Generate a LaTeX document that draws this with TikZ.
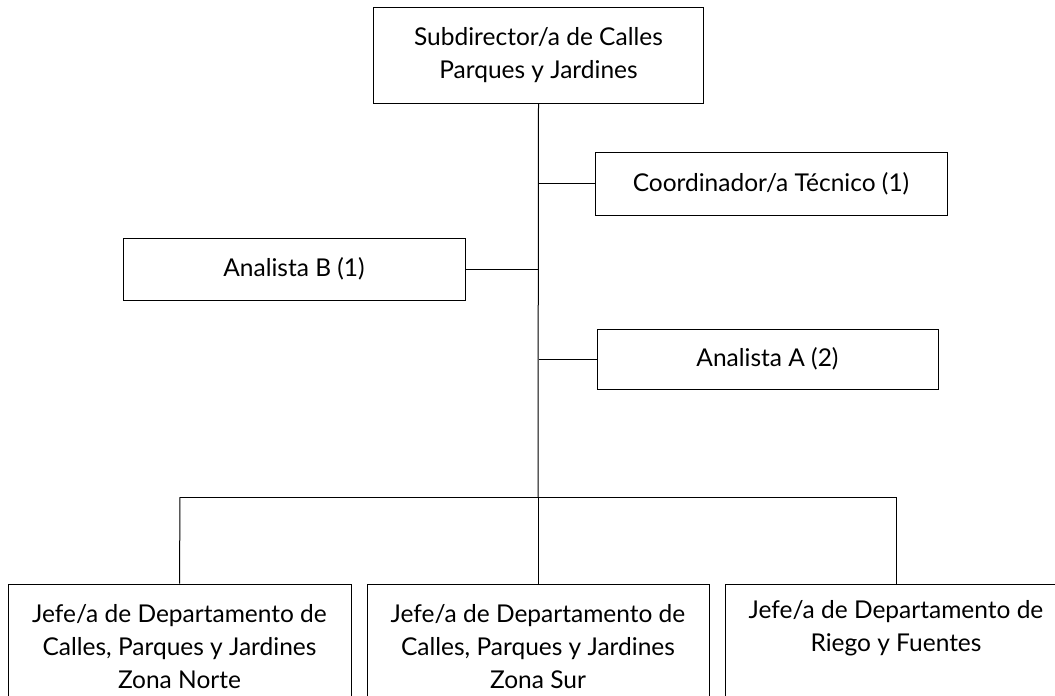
\documentclass[tikz,border=0pt]{standalone}
\usepackage{fontspec}
\setmainfont{Lato}
\begin{document}
\begin{tikzpicture}[x=1pt,y=-1pt,
  box/.style={draw=black, line width=1pt, rectangle, inner sep=0pt, align=center,
    font=\fontsize{24.5}{33}\selectfont},
  conn/.style={draw=black, line width=1pt}]
\useasboundingbox (0,0) rectangle (1055,696);
\node[box, minimum width=330pt, minimum height=96pt] (sub) at (538.5,55) {Subdirector/a de Calles\\Parques y Jardines};
\node[box, minimum width=352pt, minimum height=63pt] (coord) at (771,183.5) {Coordinador/a Técnico (1)};
\node[box, minimum width=342pt, minimum height=62pt] (anb) at (294,269) {Analista B (1)};
\node[box, minimum width=341pt, minimum height=60pt] (ana) at (767.5,359) {Analista A (2)};
\node[box, minimum width=343pt, minimum height=126pt] (j1) at (179.5,647) {Jefe/a de Departamento de\\Calles, Parques y Jardines\\Zona Norte};
\node[box, minimum width=342pt, minimum height=126pt] (j2) at (538,647) {Jefe/a de Departamento de\\Calles, Parques y Jardines\\Zona Sur};
\node[box, minimum width=342pt, minimum height=126pt] (j3) at (896,647) {Jefe/a de Departamento de\\Riego y Fuentes\\\strut};
\coordinate (bus) at (538,497);
\coordinate (b1) at (180,497);
\coordinate (b3) at (896,497);
\draw[conn] (sub.south) -- (bus);
\draw[conn] (coord.west) -- (coord.west -| sub.south);
\draw[conn] (anb.east) -- (anb.east -| sub.south);
\draw[conn] (ana.west) -- (ana.west -| sub.south);
\draw[conn] (b1) -- (b3);
\draw[conn] (b1) -- (j1.north);
\draw[conn] (bus) -- (j2.north);
\draw[conn] (b3) -- (j3.north);
\end{tikzpicture}
\end{document}
